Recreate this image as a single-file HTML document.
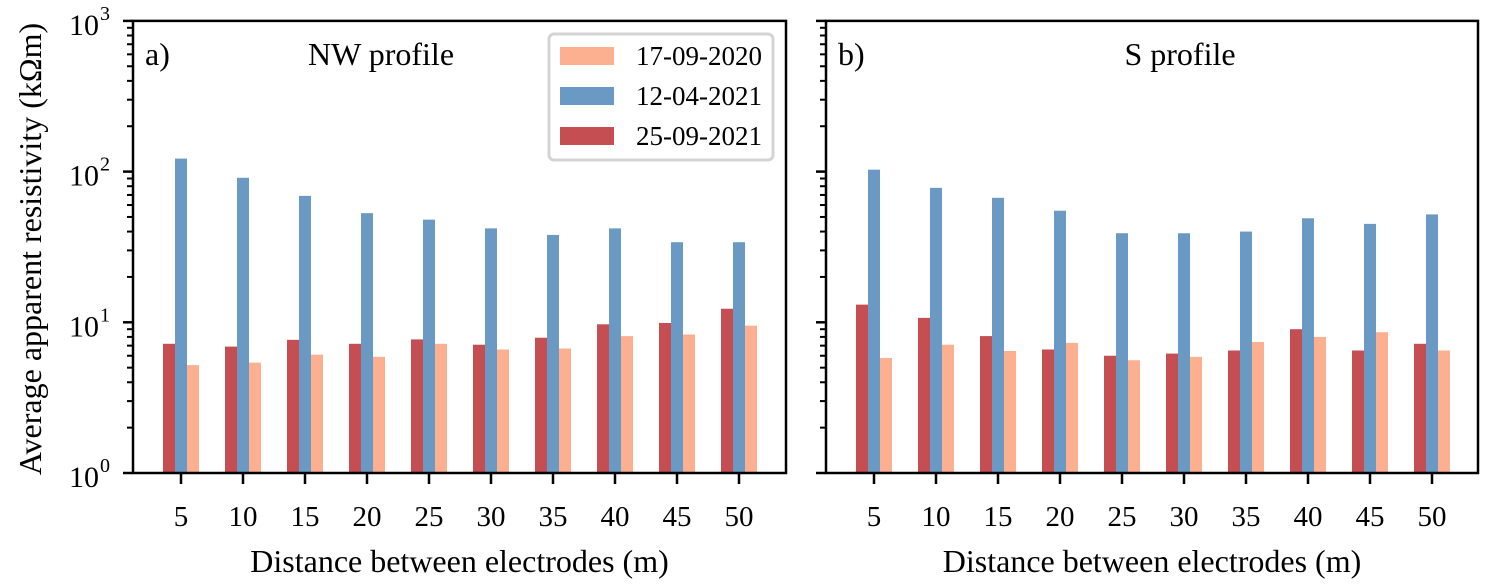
<!DOCTYPE html>
<html><head><meta charset="utf-8"><style>
body{margin:0;background:#fff}
svg{display:block;font-family:"Liberation Serif",serif}
</style></head><body>
<svg id="chart" width="1488" height="584" xmlns="http://www.w3.org/2000/svg"></svg>
<script>
const categories=[5,10,15,20,25,30,35,40,45,50];
const seriesNames=["17-09-2020","12-04-2021","25-09-2021"];
const nwOrange=[5.2,5.4,6.1,5.9,7.2,6.6,6.7,8.1,8.3,9.5];
const nwBlue=[122,91,69,53,48,42,38,42,34,34];
const nwRed=[7.2,6.9,7.65,7.2,7.7,7.1,7.9,9.7,9.9,12.3];
const sOrange=[5.8,7.1,6.45,7.3,5.6,5.9,7.4,8.0,8.6,6.5];
const sBlue=[103,78,67,55,39,39,40,49,45,52];
const sRed=[13.1,10.7,8.1,6.6,6.0,6.2,6.5,9.0,6.5,7.2];
const yTickExps=[0,1,2,3];

const NS="http://www.w3.org/2000/svg";
const svg=document.getElementById('chart');
function mk(t,a,p){const e=document.createElementNS(NS,t);for(const k in a)e.setAttribute(k,a[k]);(p||svg).appendChild(e);return e;}
const colors={o:"#fdb08f",b:"#6a9ac4",r:"#c44e52"};
const yBot=473,dec=150.7;
function y(v){return yBot-Math.log10(v)*dec;}

function panel(x0,x1,name,title,titleX,label,red,blue,orange,showY,showLegend){
  const g=mk('g',{});
  
  
  const firstX=x0+48,step=62,bw=12;
  function x(i){return firstX+i*step;}
  categories.forEach((c,i)=>{
    const cx=x(i);
    [[red,colors.r,-1.5,'red'],[blue,colors.b,-0.5,'blue'],[orange,colors.o,0.5,'orange']].forEach(([arr,col,off,nm])=>{
      const v=arr[i];
      const r=mk('rect',{x:cx+off*bw,y:y(v),width:bw,height:yBot-y(v),fill:col},g);
      
      
    });
    mk('line',{x1:cx,x2:cx,y1:yBot,y2:yBot+11,stroke:'#000','stroke-width':2.5},g);
    const t=mk('text',{x:cx,y:526,'font-size':29,'text-anchor':'middle'},g);
    t.textContent=c;
    
    
  });
  yTickExps.forEach(e=>{
    const yy=y(Math.pow(10,e));
    mk('line',{x1:x0-10,x2:x0,y1:yy,y2:yy,stroke:'#000','stroke-width':2.5},g);
    if(showY){
      const t=mk('text',{x:x0-34,y:yy+14,'font-size':30,'text-anchor':'end'},g);
      t.textContent='10';
      
      
      const s=mk('text',{x:x0-33,y:yy-1,'font-size':20,'text-anchor':'start'},g);
      s.textContent=String(e);
    }
    if(e<3)for(let m=2;m<=9;m++){const ym=y(m*Math.pow(10,e));mk('line',{x1:x0-6,x2:x0,y1:ym,y2:ym,stroke:'#000','stroke-width':2},g);}
  });
  const fr=mk('rect',{x:x0,y:y(1000),width:x1-x0,height:yBot-y(1000),fill:'none',stroke:'#000','stroke-width':2.5},g);
  
  
  const lb=mk('text',{x:x0+12,y:65,'font-size':32},g);lb.textContent=label;
  
  
  const tt=mk('text',{x:titleX,y:65,'font-size':32,'text-anchor':'middle'},g);tt.textContent=title;
  
  
  const xt=mk('text',{x:(x0+x1)/2,y:572,'font-size':32,'text-anchor':'middle'},g);xt.textContent='Distance between electrodes (m)';
  
  
  if(showLegend){
    const lg=mk('g',{},g);
    
    
    mk('rect',{x:549,y:34,width:224,height:126,rx:5,fill:'#fff',stroke:'#d4d4d4','stroke-width':3},lg);
    [colors.o,colors.b,colors.r].forEach((c,i)=>{
      const e=mk('g',{},lg);
      
      
      mk('rect',{x:560,y:47+i*40,width:54,height:18,fill:c},e);
      const t=mk('text',{x:636,y:65+i*40,'font-size':27},e);t.textContent=seriesNames[i];
    });
  }
}
panel(133,786,'nw-panel','NW profile',381,'a)',nwRed,nwBlue,nwOrange,true,true);
panel(826,1478,'s-panel','S profile',1180,'b)',sRed,sBlue,sOrange,false,false);
const yt=mk('text',{x:0,y:0,'font-size':32,'text-anchor':'middle',transform:'translate(41,249) rotate(-90)'});
yt.textContent='Average apparent resistivity (kΩm)';


</script>
</body></html>
